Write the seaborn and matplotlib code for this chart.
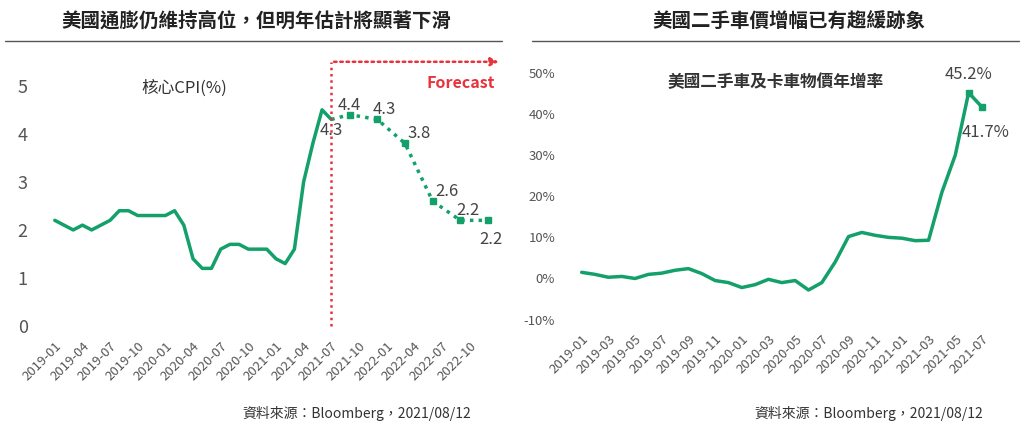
import numpy as np
import pandas as pd
import matplotlib.pyplot as plt
import seaborn as sns

sns.set_theme(style="white")
plt.rcParams['font.family'] = ['Noto Sans CJK TC', 'DejaVu Sans']

GREEN = "#14a06a"

# core CPI, monthly 2019-01 .. 2021-07
cpi_actual = [2.2, 2.1, 2.0, 2.1, 2.0, 2.1, 2.2, 2.4, 2.4, 2.3, 2.3, 2.3, 2.3, 2.4, 2.1,
              1.4, 1.2, 1.2, 1.6, 1.7, 1.7, 1.6, 1.6, 1.6, 1.4, 1.3, 1.6, 3.0, 3.8, 4.5, 4.3]
# forecast: months since 2019-01
fc_month = [30, 32, 35, 38, 41, 44, 47]
fc_value = [4.3, 4.4, 4.3, 3.8, 2.6, 2.2, 2.2]
cpi_ticks = ["2019-01", "2019-04", "2019-07", "2019-10", "2020-01", "2020-04", "2020-07", "2020-10",
             "2021-01", "2021-04", "2021-07", "2021-10", "2022-01", "2022-04", "2022-07", "2022-10"]

# used car & truck prices YoY (%), monthly 2019-01 .. 2021-07
car_yoy = [1.5, 1.0, 0.3, 0.5, 0.0, 1.0, 1.3, 2.0, 2.4, 1.2, -0.5, -1.0, -2.2, -1.5, -0.2, -1.0,
           -0.5, -2.8, -1.0, 4.0, 10.2, 11.2, 10.5, 10.0, 9.8, 9.2, 9.3, 21.0, 30.0, 45.2, 41.7]
car_ticks = ["2019-01", "2019-03", "2019-05", "2019-07", "2019-09", "2019-11", "2020-01", "2020-03",
             "2020-05", "2020-07", "2020-09", "2020-11", "2021-01", "2021-03", "2021-05", "2021-07"]

fig = plt.figure(figsize=(10.24, 4.29), dpi=100)
ax1 = fig.add_axes([0.04, 0.24, 0.45, 0.56])
ax2 = fig.add_axes([0.555, 0.255, 0.43, 0.575])

# ---- left panel
df1 = pd.DataFrame({"m": np.arange(len(cpi_actual)), "v": cpi_actual})
sns.lineplot(data=df1, x="m", y="v", ax=ax1, color=GREEN, lw=2.5)
df_fc = pd.DataFrame({"m": fc_month, "v": fc_value})
ax1.plot(df_fc.m, df_fc.v, color=GREEN, lw=2.5, ls=(0, (1, 1.5)))
ax1.plot(df_fc.m[1:], df_fc.v[1:], "s", color=GREEN, ms=5)
offs = [(0, -0.22), (0, 0.2), (0.8, 0.2), (1.5, 0.2), (1.5, 0.2), (0.8, 0.2), (0.3, -0.4)]
for (m, v), (dx, dy) in zip(zip(fc_month, fc_value), offs):
    ax1.text(m + dx, v + dy, f"{v:.1f}", fontsize=12, color="#444444", ha="center", va="center")
ax1.axvline(30, color="#e8323c", ls=(0, (1, 1.5)), lw=1.8, ymin=0, ymax=1.1, clip_on=False)
ax1.annotate("", xy=(48.5, 5.5), xytext=(30, 5.5),
             arrowprops=dict(arrowstyle="-|>", color="#e8323c", ls=(0, (1, 1.5)), lw=1.8),
             annotation_clip=False)
ax1.text(47.8, 4.95, "Forecast", color="#e8323c", fontsize=11.5, ha="right", fontweight="bold")
ax1.text(14, 4.85, "核心CPI(%)", fontsize=12, color="#333333", ha="center")
ax1.set_ylim(0, 5)
ax1.set_xlim(-1.5, 48.5)
ax1.set_yticks(range(6))
ax1.set_xticks(range(0, 46, 3))
ax1.set_xticklabels(cpi_ticks, rotation=45, ha="right", rotation_mode="anchor")
ax1.tick_params(axis="y", labelsize=13, colors="#555555")
ax1.tick_params(axis="x", labelsize=9.5, colors="#555555")

# ---- right panel
df2 = pd.DataFrame({"m": np.arange(len(car_yoy)), "v": car_yoy})
sns.lineplot(data=df2, x="m", y="v", ax=ax2, color=GREEN, lw=2.5)
ax2.plot(df2.m[-2:], df2.v[-2:], "s", color=GREEN, ms=5)
ax2.text(29, 48.5, "45.2%", fontsize=12, color="#444444", ha="center")
ax2.text(30.3, 34.5, "41.7%", fontsize=12, color="#444444", ha="center")
ax2.text(14.5, 46.5, "美國二手車及卡車物價年增率", fontsize=12, color="#333333",
         ha="center", fontweight="bold")
ax2.set_ylim(-10, 50)
ax2.set_xlim(-1, 32)
ax2.set_yticks(range(-10, 51, 10))
ax2.set_yticklabels([f"{t}%" for t in range(-10, 51, 10)])
ax2.set_xticks(range(0, 31, 2))
ax2.set_xticklabels(car_ticks, rotation=45, ha="right", rotation_mode="anchor")
ax2.tick_params(axis="y", labelsize=9.5, colors="#555555")
ax2.tick_params(axis="x", labelsize=9.5, colors="#555555")

for ax in (ax1, ax2):
    sns.despine(ax=ax, left=True, bottom=True)
    ax.set_xlabel("")
    ax.set_ylabel("")

# titles with underline
fig.text(0.25, 0.935, "美國通膨仍維持高位，但明年估計將顯著下滑", fontsize=14, fontweight="bold",
         ha="center", color="#222222")
fig.text(0.77, 0.935, "美國二手車價增幅已有趨緩跡象", fontsize=14, fontweight="bold",
         ha="center", color="#222222")
fig.add_artist(plt.Line2D([0.005, 0.49], [0.905, 0.905], color="#555555", lw=1))
fig.add_artist(plt.Line2D([0.52, 0.995], [0.905, 0.905], color="#555555", lw=1))
fig.text(0.46, 0.025, "資料來源：Bloomberg，2021/08/12", fontsize=10, ha="right", color="#333333")
fig.text(0.96, 0.025, "資料來源：Bloomberg，2021/08/12", fontsize=10, ha="right", color="#333333")

fig.savefig("out.png", dpi=100)
